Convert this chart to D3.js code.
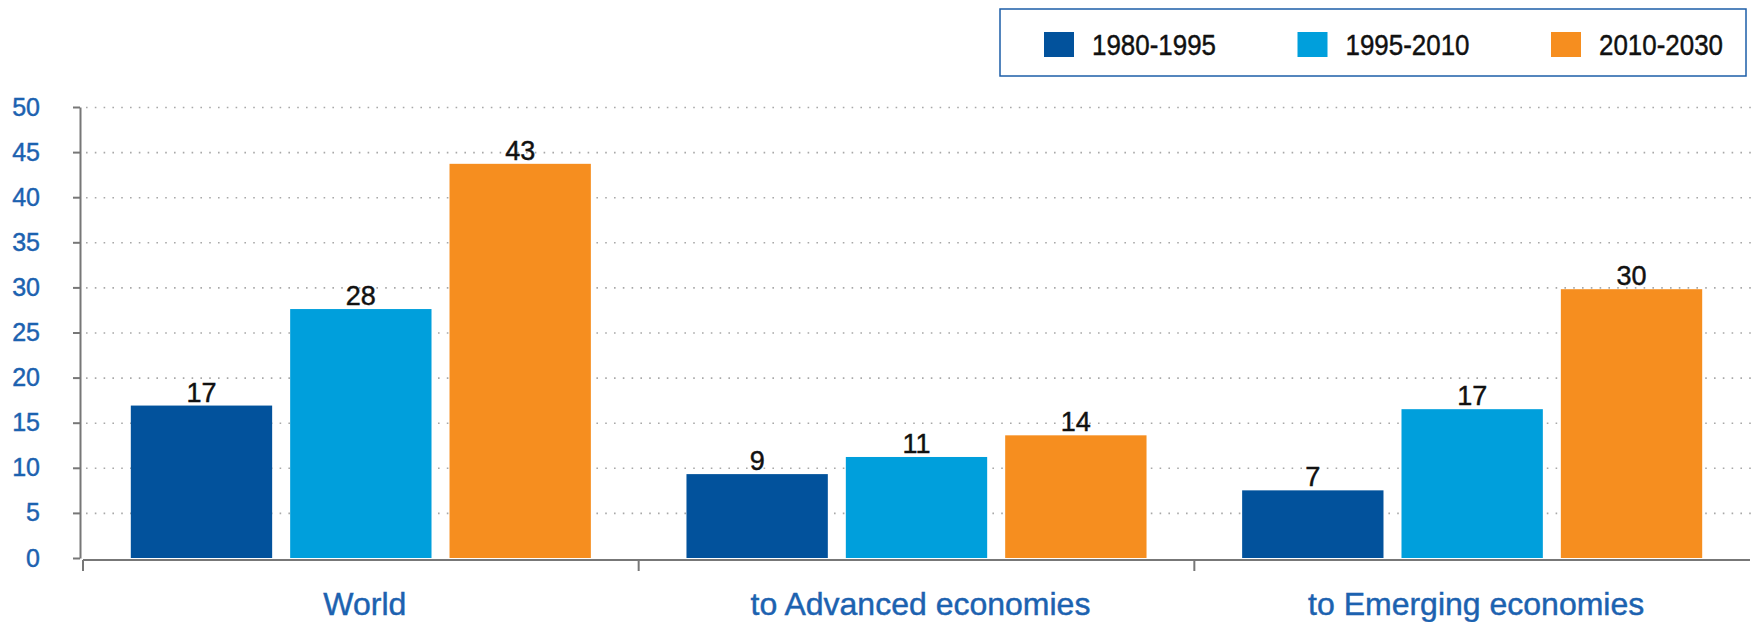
<!DOCTYPE html>
<html>
<head>
<meta charset="utf-8">
<script src="https://cdn.jsdelivr.net/npm/d3@7"></script>
<style>
  body { margin: 0; background: #fff; }
  svg { display: block; font-family: "Liberation Sans", Arial, sans-serif; }
  text { stroke-width: 0.45px; }
</style>
</head>
<body>
<svg id="chart"></svg>
<script>
const categories = ["World", "to Advanced economies", "to Emerging economies"];
const periods = ["1980-1995", "1995-2010", "2010-2030"];
const values1980 = [16.9, 9.3, 7.5];
const values1995 = [27.6, 11.2, 16.5];
const values2010 = [43.7, 13.6, 29.8];
const labels1980 = ["17", "9", "7"];
const labels1995 = ["28", "11", "17"];
const labels2010 = ["43", "14", "30"];
const yTicks = [0, 5, 10, 15, 20, 25, 30, 35, 40, 45, 50];
const colors = ["#02529c", "#009fdc", "#f68e1f"];

const width = 1756, height = 622;
const plotLeft = 80, plotTop = 107, plotBottom = 558;
const blueText = "#1c62b0", darkText = "#111";

const seriesValues = [values1980, values1995, values2010];
const seriesLabels = [labels1980, labels1995, labels2010];

const rows = [];
categories.forEach((c, i) => {
    periods.forEach((p, j) => {
        rows.push({cat: c, period: p, value: seriesValues[j][i], label: seriesLabels[j][i]});
    });
});

const svg = d3.select("#chart")
    .attr("width", width)
    .attr("height", height)
    .attr("viewBox", `0 0 ${width} ${height}`);

const y = d3.scaleLinear().domain([0, 50]).range([plotBottom, plotTop]);
const x0 = d3.scaleBand().domain(categories).range([83, 1750]);
const x1 = d3.scaleBand().domain(periods).range([0, x0.bandwidth()])
    .paddingInner(0.113).paddingOuter(0.3);
const color = d3.scaleOrdinal().domain(periods).range(colors);

// dotted gridlines
const grid = svg.append("g")
    .attr("transform", `translate(${plotLeft},0)`)
    .call(d3.axisLeft(y).tickValues(yTicks.slice(1)).tickSize(-(1745 - plotLeft)).tickFormat(""));
grid.select(".domain").remove();
grid.selectAll("line")
    .attr("stroke", "#a8a8a8")
    .attr("stroke-width", 1.6)
    .attr("stroke-dasharray", "1.6,7.2")
    .attr("transform", "translate(6,0)");

// bars
svg.append("g").selectAll("rect")
    .data(rows)
    .join("rect")
    .attr("x", d => x0(d.cat) + x1(d.period))
    .attr("y", d => y(d.value))
    .attr("width", x1.bandwidth())
    .attr("height", d => y(0) - y(d.value))
    .attr("fill", d => color(d.period));

svg.append("g").selectAll("text")
    .data(rows)
    .join("text")
    .attr("x", d => x0(d.cat) + x1(d.period) + x1.bandwidth() / 2)
    .attr("y", d => y(d.value) - 4)
    .attr("text-anchor", "middle")
    .attr("font-size", 27)
    .attr("fill", darkText).attr("stroke", darkText)
    .text(d => d.label);

// y axis
const yAxis = svg.append("g")
    .attr("transform", `translate(${plotLeft},0)`)
    .call(d3.axisLeft(y).tickValues(yTicks).tickSize(7).tickSizeOuter(0).tickPadding(33));
yAxis.select(".domain").attr("stroke", "#777").attr("stroke-width", 2);
yAxis.selectAll(".tick line").attr("stroke", "#777").attr("stroke-width", 2);
yAxis.selectAll(".tick text")
    .attr("font-size", 25)
    .attr("fill", blueText).attr("stroke", blueText)
    .attr("font-family", "Liberation Sans, Arial, sans-serif");

// x axis
const xAxisY = 560;
svg.append("line")
    .attr("x1", 83).attr("x2", 1750)
    .attr("y1", xAxisY).attr("y2", xAxisY)
    .attr("stroke", "#777").attr("stroke-width", 2);
svg.append("g").selectAll("line")
    .data(categories)
    .join("line")
    .attr("x1", d => x0(d)).attr("x2", d => x0(d))
    .attr("y1", xAxisY).attr("y2", xAxisY + 11)
    .attr("stroke", "#777").attr("stroke-width", 2);
svg.append("g").selectAll("text")
    .data(categories)
    .join("text")
    .attr("x", d => x0(d) + x0.bandwidth() / 2 + 4)
    .attr("y", 615)
    .attr("text-anchor", "middle")
    .attr("font-size", 32)
    .attr("fill", blueText).attr("stroke", blueText)
    .text(d => d);

// legend
const legend = svg.append("g");
legend.append("rect")
    .attr("x", 1000).attr("y", 9)
    .attr("width", 746).attr("height", 67)
    .attr("fill", "none")
    .attr("stroke", "#1c5ea8").attr("stroke-width", 1.5);
const legendX = d3.scalePoint().domain(periods).range([1044, 1551]);
const item = legend.selectAll("g.item")
    .data(periods)
    .join("g")
    .attr("class", "item")
    .attr("transform", d => `translate(${legendX(d)},32)`);
item.append("rect")
    .attr("width", 30).attr("height", 25)
    .attr("fill", d => color(d));
item.append("text")
    .attr("x", 48).attr("y", 23)
    .attr("font-size", 30)
    .attr("textLength", 124)
    .attr("lengthAdjust", "spacingAndGlyphs")
    .attr("fill", darkText).attr("stroke", darkText)
    .text(d => d);
</script>
</body>
</html>
